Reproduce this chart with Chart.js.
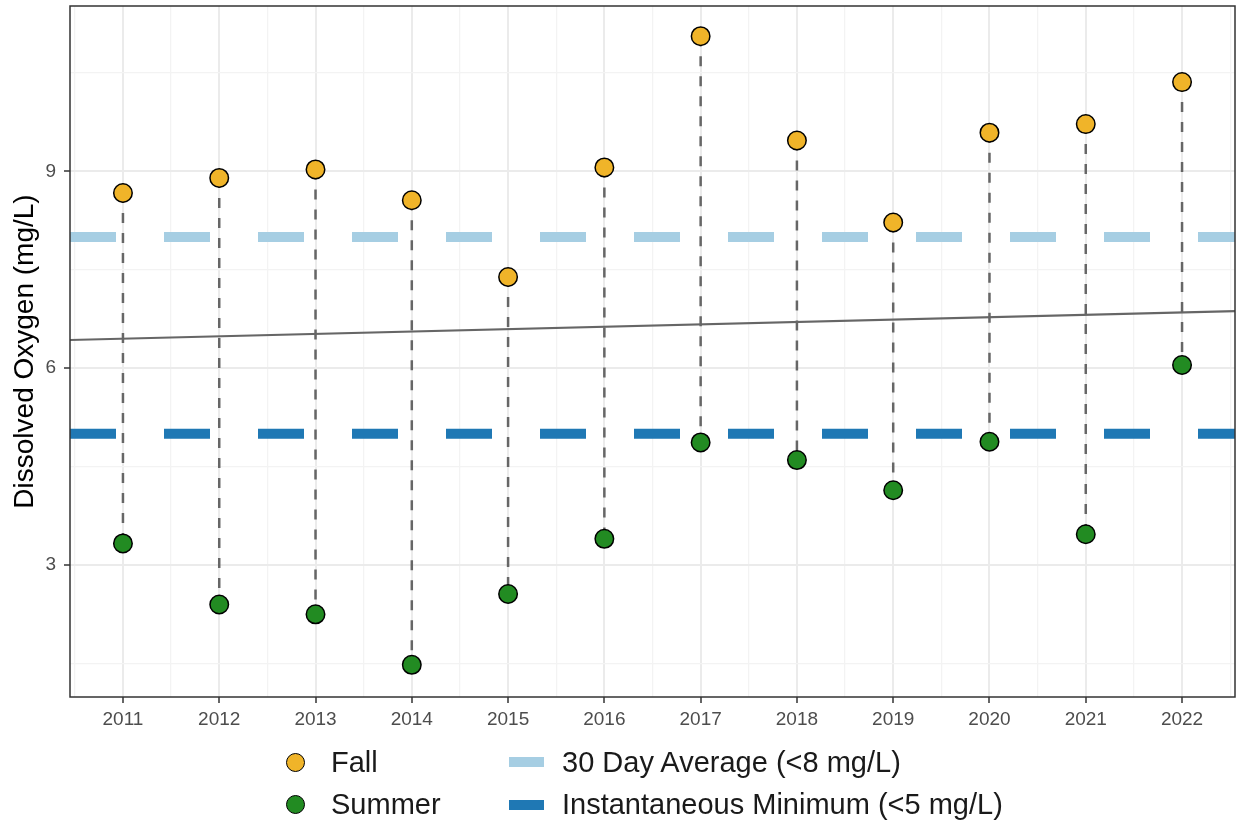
<!DOCTYPE html>
<html>
<head>
<meta charset="utf-8">
<script src="https://cdn.jsdelivr.net/npm/chart.js@4.4.0/dist/chart.umd.min.js"></script>
<style>
html,body{margin:0;padding:0;background:#fff;}
#wrap{position:relative;width:1238px;height:825px;overflow:hidden;}
#c{position:absolute;left:0;top:0;}
.lgt{position:absolute;font-family:"Liberation Sans",Arial,Helvetica,sans-serif;font-size:29px;line-height:29px;color:#1a1a1a;white-space:nowrap;}
.dot{position:absolute;width:19px;height:19px;border-radius:50%;border:1.5px solid #000;box-sizing:border-box;}
.key{position:absolute;width:35px;height:10px;}
</style>
</head>
<body>
<div id="wrap">
<canvas id="c" width="1238" height="825"></canvas>
<div class="dot" style="left:286px;top:753px;background:#F0B429"></div>
<div class="lgt" style="left:331px;top:748px">Fall</div>
<div class="dot" style="left:286px;top:795px;background:#228B22"></div>
<div class="lgt" style="left:331px;top:790px">Summer</div>
<div class="key" style="left:509px;top:757px;background:#A6CEE3"></div>
<div class="lgt" style="left:562px;top:748px">30 Day Average (&lt;8 mg/L)</div>
<div class="key" style="left:509px;top:800px;background:#1F78B4"></div>
<div class="lgt" style="left:562px;top:790px">Instantaneous Minimum (&lt;5 mg/L)</div>
</div>
<script>
const years = [2011,2012,2013,2014,2015,2016,2017,2018,2019,2020,2021,2022];
const fallDO = [8.67,8.90,9.03,8.56,7.39,9.06,11.06,9.47,8.22,9.59,9.72,10.36];
const summerDO = [3.33,2.40,2.25,1.48,2.56,3.40,4.87,4.60,4.14,4.88,3.47,6.05];
const trendX = [2010.45,2022.55];
const trendY = [6.43,6.87];
const avgLimit = 8;
const minLimit = 5;
const xRange = [2010.45,2022.55];
const yRange = [0.99,11.52];
const yTickVals = [1.5,3,4.5,6,7.5,9,10.5];
const yLabelVals = [3,6,9];
const xTickVals = [2010.5,2011,2011.5,2012,2012.5,2013,2013.5,2014,2014.5,2015,2015.5,2016,2016.5,2017,2017.5,2018,2018.5,2019,2019.5,2020,2020.5,2021,2021.5,2022,2022.5];

const connectors = [];
years.forEach((y,i)=>{
  connectors.push({x:y,y:fallDO[i]});
  connectors.push({x:y,y:summerDO[i]});
  connectors.push({x:y,y:null});
});

const isMajorY = v => yLabelVals.includes(v);
const isMajorX = v => Number.isInteger(v);

const panelBorder = {
  id:'panelBorder',
  afterDraw(chart){
    const a = chart.chartArea, ctx = chart.ctx;
    ctx.save();
    ctx.strokeStyle = '#333333';
    ctx.lineWidth = 1.5;
    ctx.strokeRect(a.left, a.top, a.right-a.left, a.bottom-a.top);
    ctx.restore();
  }
};

const FONT = '"Liberation Sans", Arial, Helvetica, sans-serif';

new Chart(document.getElementById('c'), {
  type:'scatter',
  data:{
    datasets:[
      {label:'Fall', data: years.map((y,i)=>({x:y,y:fallDO[i]})), backgroundColor:'#F0B429', borderColor:'#000', pointRadius:9.25, pointBorderWidth:1.5, pointHoverRadius:9.25, order:0},
      {label:'Summer', data: years.map((y,i)=>({x:y,y:summerDO[i]})), backgroundColor:'#228B22', borderColor:'#000', pointRadius:9.25, pointBorderWidth:1.5, pointHoverRadius:9.25, order:1},
      {label:'conn', data: connectors, showLine:true, spanGaps:false, borderColor:'#666666', borderWidth:2.5, borderDash:[10,10], pointRadius:0, order:2},
      {label:'trend', data: trendX.map((x,i)=>({x:x,y:trendY[i]})), showLine:true, borderColor:'#666666', borderWidth:2.2, pointRadius:0, order:3},
      {label:'30 Day Average (<8 mg/L)', data: xRange.map(x=>({x:x,y:avgLimit})), showLine:true, borderColor:'#A6CEE3', borderWidth:10, borderDash:[46,48], borderCapStyle:'butt', pointRadius:0, order:4},
      {label:'Instantaneous Minimum (<5 mg/L)', data: xRange.map(x=>({x:x,y:minLimit})), showLine:true, borderColor:'#1F78B4', borderWidth:10, borderDash:[46,48], borderCapStyle:'butt', pointRadius:0, order:5}
    ]
  },
  options:{
    responsive:false,
    animation:false,
    events:[],
    layout:{autoPadding:false, padding:{left:0,top:6,right:3,bottom:88}},
    plugins:{legend:{display:false},tooltip:{enabled:false}},
    scales:{
      x:{
        type:'linear', min:xRange[0], max:xRange[1],
        afterBuildTicks(s){ s.ticks = xTickVals.map(v=>({value:v})); },
        afterFit(s){ s.height = 40; s.paddingLeft = 0; s.paddingRight = 0; },
        border:{display:false},
        grid:{
          color: c => isMajorX(c.tick.value) ? '#EBEBEB' : '#F3F3F3',
          lineWidth: c => isMajorX(c.tick.value) ? 2 : 1.3,
          tickColor: c => isMajorX(c.tick.value) ? '#333333' : 'rgba(0,0,0,0)',
          tickLength:6, tickWidth:1.5
        },
        ticks:{
          autoSkip:false, maxRotation:0, padding:5,
          color:'#4D4D4D', font:{family:FONT,size:19},
          callback: v => isMajorX(v) ? String(v) : ''
        }
      },
      y:{
        type:'linear', min:yRange[0], max:yRange[1],
        afterBuildTicks(s){ s.ticks = yTickVals.map(v=>({value:v})); },
        afterFit(s){ s.width = 70; s.paddingTop = 0; s.paddingBottom = 0; },
        border:{display:false},
        grid:{
          color: c => isMajorY(c.tick.value) ? '#EBEBEB' : '#F3F3F3',
          lineWidth: c => isMajorY(c.tick.value) ? 2 : 1.3,
          tickColor: c => isMajorY(c.tick.value) ? '#333333' : 'rgba(0,0,0,0)',
          tickLength:6, tickWidth:1.5
        },
        ticks:{
          autoSkip:false, padding:8,
          color:'#4D4D4D', font:{family:FONT,size:19},
          callback: v => isMajorY(v) ? String(v) : ''
        },
        title:{
          display:true, text:'Dissolved Oxygen (mg/L)',
          color:'#000', font:{family:FONT,size:28}, padding:{top:8,bottom:0}
        }
      }
    }
  },
  plugins:[panelBorder]
});
</script>
</body>
</html>
